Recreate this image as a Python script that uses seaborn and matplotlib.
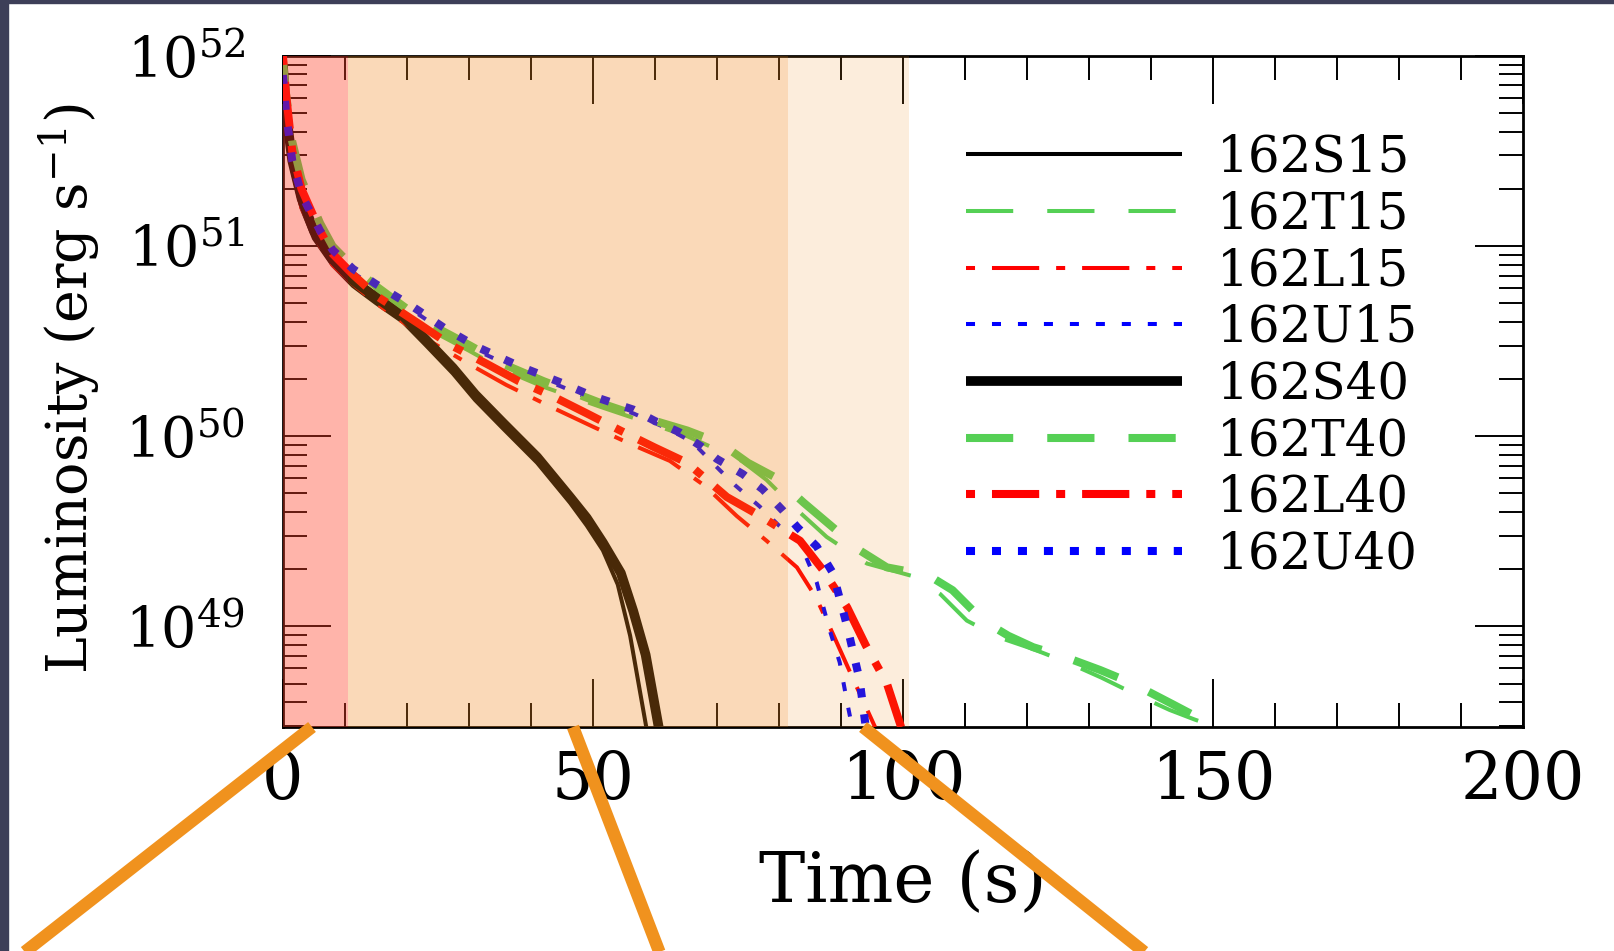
import numpy as np
import pandas as pd
import matplotlib
matplotlib.use("Agg")
import matplotlib.pyplot as plt
import matplotlib.ticker as mticker
from matplotlib.lines import Line2D
from matplotlib.patches import Rectangle
import seaborn as sns

# ---------------- data (log10 luminosity) ----------------
names = ["162S15", "162T15", "162L15", "162U15", "162S40", "162T40", "162L40", "162U40"]

t_S15 = [0, 0.5, 1.5, 3, 5, 8, 11.3, 15, 19.4, 23, 27.4, 31, 35.5, 41, 46.3, 49, 51.6, 54, 56, 58.6]
l_S15 = [51.9, 51.65, 51.4, 51.2, 51.04, 50.9, 50.79, 50.7, 50.6, 50.48, 50.33, 50.19, 50.04, 49.86,
         49.65, 49.53, 49.4, 49.22, 48.95, 48.47]

t_S40 = [0, 0.5, 1.5, 3, 5, 8, 11.3, 15, 19.4, 23, 27.4, 31, 35.5, 41, 46.3, 49, 51.6, 54.5, 56.5, 58.5, 60.6]
l_S40 = [51.95, 51.7, 51.45, 51.25, 51.08, 50.93, 50.82, 50.73, 50.63, 50.51, 50.36, 50.22, 50.07, 49.89,
         49.68, 49.57, 49.44, 49.28, 49.08, 48.85, 48.47]

t_T15 = [0, 0.5, 1.5, 3, 6, 8, 11.3, 15, 20, 24.8, 30, 35.5, 42, 51.6, 58, 65.2, 70, 74, 78, 82, 87.7,
         94.2, 102, 106, 110.3, 115.6, 121, 126.5, 132, 137, 143, 147, 150.5]
l_T15 = [51.9, 51.7, 51.45, 51.25, 51.05, 50.95, 50.85, 50.76, 50.64, 50.54, 50.45, 50.35, 50.26, 50.15,
         50.08, 50.0, 49.93, 49.87, 49.77, 49.64, 49.47, 49.33, 49.26, 49.17, 49.03, 48.94, 48.88, 48.81,
         48.73, 48.65, 48.56, 48.51, 48.47]

t_T40 = [0, 0.5, 1.5, 3, 6, 8, 11.3, 15, 20, 24.8, 30, 35.5, 42, 51.6, 58, 65.2, 70, 72, 75, 79.6, 84,
         89.8, 93, 97.4, 102.3, 105, 108, 112.9, 117, 121, 126, 131.8, 137, 143.5, 147, 150.3]
l_T40 = [51.98, 51.8, 51.55, 51.35, 51.12, 51.0, 50.89, 50.79, 50.67, 50.57, 50.48, 50.38, 50.29, 50.17,
         50.1, 50.03, 49.97, 49.93, 49.86, 49.78, 49.65, 49.49, 49.4, 49.31, 49.28, 49.25, 49.19, 49.03,
         48.95, 48.89, 48.84, 48.77, 48.7, 48.59, 48.53, 48.47]

t_L15 = [0, 0.5, 1.5, 3, 6, 8, 11.3, 15, 23.7, 30, 36, 43.5, 50, 56, 62.4, 68, 73.2, 78, 82.9, 86, 88.7,
         92, 95.5]
l_L15 = [51.95, 51.7, 51.4, 51.2, 51.0, 50.9, 50.8, 50.7, 50.5, 50.38, 50.27, 50.15, 50.05, 49.96, 49.87,
         49.74, 49.58, 49.45, 49.31, 49.15, 48.96, 48.72, 48.47]

t_L40 = [0, 0.5, 1.5, 3, 6, 8, 11.3, 15, 22, 27, 32.9, 38, 43.5, 49, 54.4, 60, 65.2, 71.6, 77, 83.4, 87,
         91, 94, 97.4, 99.7]
l_L40 = [52.0, 51.8, 51.5, 51.3, 51.08, 50.96, 50.85, 50.74, 50.59, 50.48, 50.38, 50.29, 50.21, 50.12,
         50.03, 49.94, 49.86, 49.68, 49.58, 49.45, 49.3, 49.1, 48.9, 48.7, 48.47]

t_U15 = [0, 0.5, 1.5, 3, 6, 8, 11.3, 15, 21, 26, 31.3, 38, 45, 50, 56.5, 62, 66, 70.5, 73, 76.9, 80,
         83.4, 86.1, 88, 89.8, 91, 91.8]
l_U15 = [51.85, 51.65, 51.4, 51.22, 51.04, 50.95, 50.86, 50.78, 50.66, 50.55, 50.45, 50.35, 50.26, 50.19,
         50.12, 50.04, 49.97, 49.82, 49.74, 49.63, 49.53, 49.44, 49.23, 49.0, 48.81, 48.6, 48.47]

t_U40 = [0, 0.5, 1.5, 3, 6, 8, 11.3, 15, 21, 26, 31.3, 38, 45, 50, 56.5, 60, 64, 67.3, 70, 74.2, 77.4,
         80.6, 83, 86.1, 88.7, 91, 93, 94]
l_U40 = [51.9, 51.7, 51.45, 51.27, 51.08, 50.98, 50.88, 50.8, 50.68, 50.57, 50.47, 50.37, 50.28, 50.21,
         50.14, 50.08, 50.02, 49.95, 49.88, 49.8, 49.72, 49.61, 49.52, 49.42, 49.28, 49.0, 48.72, 48.47]

times = [t_S15, t_T15, t_L15, t_U15, t_S40, t_T40, t_L40, t_U40]
logls = [l_S15, l_T15, l_L15, l_U15, l_S40, l_T40, l_L40, l_U40]

# shaded phases (s)
phase_edges = [0, 10.5, 81.5, 101]

# ---------------- style ----------------
sns.set_style("white")
plt.rcParams["font.family"] = ["DejaVu Serif"]
plt.rcParams["mathtext.fontset"] = "dejavuserif"
plt.rcParams["lines.scale_dashes"] = False
plt.rcParams["text.color"] = "black"
plt.rcParams["axes.labelcolor"] = "black"

colors = {"S": "#000000", "T": "#55D055", "L": "#FF0000", "U": "#0000FF"}
dash = {"S": (0, ()), "T": (0, (34, 24.5)), "L": (0, (6.5, 12.2, 34, 12.2)), "U": (0, (6.5, 12.2))}
lw_thin = 2.9
lw_thick = {"S": 7.0, "T": 5.8, "L": 5.8, "U": 5.8}

fig = plt.figure(figsize=(16.14, 9.51), dpi=100)
ax = fig.add_axes([0.1753, 0.2355, 0.7683, 0.7056])

for name, t, l in zip(names, times, logls):
    kind = name[3]
    mass = name[4:]
    lw = lw_thin if mass == "15" else lw_thick[kind]
    df = pd.DataFrame({"t": t, "L": 10.0 ** np.array(l)})
    sns.lineplot(data=df, x="t", y="L", ax=ax, color=colors[kind], lw=lw,
                 linestyle=dash[kind], label=name, sort=False, estimator=None, zorder=3)

ax.set_yscale("log")
ax.set_xlim(0, 200)
ax.set_ylim(10 ** 48.47, 1e52)

# overlay shading (drawn above curves, as in the reference)
ax.axvspan(phase_edges[0], phase_edges[1], color="#FF4026", alpha=0.39, lw=0, zorder=10)
ax.axvspan(phase_edges[1], phase_edges[2], color="#EF871A", alpha=0.31, lw=0, zorder=10)
ax.axvspan(phase_edges[2], phase_edges[3], color="#EF871A", alpha=0.15, lw=0, zorder=10)

# ticks
ax.xaxis.set_major_locator(mticker.MultipleLocator(50))
ax.xaxis.set_minor_locator(mticker.MultipleLocator(10))
ax.yaxis.set_major_locator(mticker.LogLocator(base=10, numticks=10))
ax.yaxis.set_minor_locator(mticker.LogLocator(base=10, subs=np.arange(2, 10), numticks=20))
ax.yaxis.set_minor_formatter(mticker.NullFormatter())
ax.tick_params(which="both", direction="in", top=True, right=True, bottom=True, left=True,
               color="black", labelcolor="black", width=1.4)
ax.tick_params(which="major", length=34.5)
ax.tick_params(which="minor", length=17)
ax.tick_params(axis="x", which="major", labelsize=47, pad=16)
ax.tick_params(axis="y", which="major", labelsize=40, pad=27)
for s in ax.spines.values():
    s.set_color("black")
    s.set_linewidth(2.0)
    s.set_zorder(2.5)

ax.set_xlabel("Time (s)", fontsize=50, color="black")
ax.set_ylabel("Luminosity (erg s$^{-1}$)", fontsize=40, color="black")
ax.xaxis.label.set_va("center")
ax.yaxis.label.set_va("center")
ax.xaxis.set_label_coords(0.5, -0.2325)
ax.yaxis.set_label_coords(-0.172, 0.504)

leg = ax.legend(loc="upper left", bbox_to_anchor=(0.551, 0.885), frameon=False, fontsize=36,
                handlelength=4.32, handletextpad=0.7, labelspacing=0.145, borderpad=0,
                borderaxespad=0, labelcolor="black")
leg.set_zorder(12)

# ---------------- decorations: slide frame and orange guide lines ----------------
W, H = 1614.0, 951.0
fig.patches.append(Rectangle((0, 0), 8 / W, 1, transform=fig.transFigure, color="#3D3F58", zorder=0))
fig.patches.append(Rectangle((0, 1 - 3 / H), 1, 3 / H, transform=fig.transFigure, color="#3D3F58", zorder=0))

def guide(x0, y0, x1, y1):
    # extend past the bottom edge
    yb = 980.0
    xb = x0 + (x1 - x0) * (yb - y0) / (y1 - y0)
    fig.add_artist(Line2D([x0 / W, xb / W], [1 - y0 / H, 1 - yb / H], transform=fig.transFigure,
                          color="#F0921E", lw=9, solid_capstyle="butt", zorder=20))

guide(312, 727, 26, 951)
guide(573, 727, 659, 951)
guide(863, 727, 1143, 951)

fig.savefig("out.png", dpi=100)
